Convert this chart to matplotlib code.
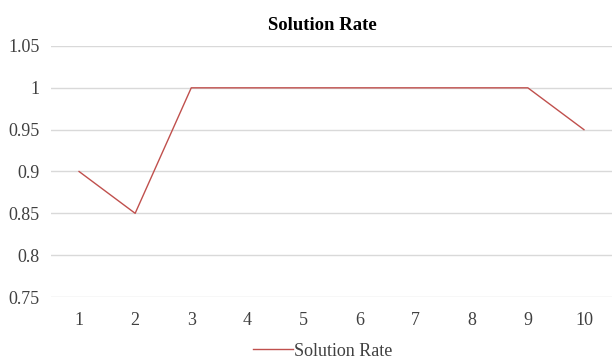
import matplotlib.pyplot as plt

# data
runs = [1, 2, 3, 4, 5, 6, 7, 8, 9, 10]
solution_rate = [0.9, 0.85, 1.0, 1.0, 1.0, 1.0, 1.0, 1.0, 1.0, 0.95]
y_ticks = [0.75, 0.8, 0.85, 0.9, 0.95, 1.0, 1.05]
y_labels = ["0.75", "0.8", "0.85", "0.9", "0.95", "1", "1.05"]

plt.rcParams["font.family"] = ["Liberation Serif", "DejaVu Serif"]

fig = plt.figure(figsize=(6.16, 3.59), dpi=100)
ax = fig.add_axes([0.0828, 0.1727, 0.9107, 0.6992])

ax.plot(runs, solution_rate, color="#C0504D", linewidth=1.0, label="Solution Rate")

ax.set_xlim(0.5, 10.5)
ax.set_ylim(0.75, 1.05)
ax.set_xticks(runs)
ax.set_xticklabels([str(r) for r in runs])
ax.set_yticks(y_ticks)
ax.set_yticklabels(y_labels)
ax.tick_params(axis="both", length=0, labelsize=13, colors="#404040")
ax.tick_params(axis="x", pad=11)
ax.tick_params(axis="y", pad=8)
ax.grid(axis="y", color="#D9D9D9", linewidth=1.0)
ax.set_axisbelow(True)
for s in ax.spines.values():
    s.set_visible(False)

fig.text(0.524, 0.93, "Solution Rate", ha="center", va="center",
         fontsize=13.5, fontweight="bold", color="#000000")

fig.legend(loc="center", bbox_to_anchor=(0.524, 0.022), frameon=False,
           fontsize=13, handlelength=2.2, handletextpad=0.1,
           labelcolor="#404040")

fig.savefig("out.png", dpi=100)
